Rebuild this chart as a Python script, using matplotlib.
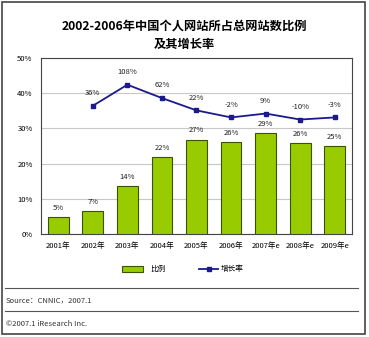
import matplotlib.pyplot as plt
from matplotlib.patches import Rectangle
from matplotlib.lines import Line2D

plt.rcParams['font.family'] = ['Noto Sans CJK SC', 'DejaVu Sans']

# data
years = ['2001年', '2002年', '2003年', '2004年', '2005年', '2006年', '2007年e', '2008年e', '2009年e']
share = [4.7, 6.5, 13.5, 21.9, 26.8, 26.1, 28.6, 25.7, 24.9]
share_labels = ['5%', '7%', '14%', '22%', '27%', '26%', '29%', '26%', '25%']
growth_pos = [36.4, 42.4, 38.6, 35.1, 33.1, 34.2, 32.5, 33.1]
growth_labels = ['36%', '108%', '62%', '22%', '-2%', '9%', '-10%', '-3%']

fig = plt.figure(figsize=(3.69, 3.37), dpi=100)
ax = fig.add_axes([0.111, 0.306, 0.843, 0.522])

x = list(range(len(years)))
ax.bar(x, share, width=0.6, color='#99cc00', edgecolor='#3d5200', linewidth=0.8, zorder=3)
for xi, v, lab in zip(x, share, share_labels):
    ax.text(xi, v + 1.5, lab, ha='center', va='bottom', fontsize=5.5, color='#222222')

xg = x[1:]
ax.plot(xg, growth_pos, color='#1a1a8c', linewidth=1.3, marker='s', markersize=3, zorder=4)
for xi, v, lab in zip(xg, growth_pos, growth_labels):
    ax.text(xi, v + 2.5, lab, ha='center', va='bottom', fontsize=5.5, color='#222222')

ax.set_xlim(-0.5, len(years) - 0.5)
ax.set_ylim(0, 50)
ax.set_yticks([0, 10, 20, 30, 40, 50])
ax.set_yticklabels(['0%', '10%', '20%', '30%', '40%', '50%'], fontsize=5.5)
ax.set_xticks(x)
ax.set_xticklabels(years, fontsize=5.5)
ax.tick_params(length=0, pad=6)
ax.yaxis.grid(True, color='#c8c8c8', linewidth=0.8, zorder=0)
for s in ax.spines.values():
    s.set_color('#444444')
    s.set_linewidth(0.8)

# title
fig.text(0.5, 0.922, '2002-2006年中国个人网站所占总网站数比例', ha='center', va='center',
         fontsize=8.8, fontweight='bold')
fig.text(0.5, 0.868, '及其增长率', ha='center', va='center', fontsize=8.8, fontweight='bold')

# legend
ly = 1 - 269 / 337
fig.patches.append(Rectangle((122 / 369, ly - 3 / 337), 21 / 369, 6 / 337, transform=fig.transFigure,
                             facecolor='#99cc00', edgecolor='#3d5200', linewidth=0.8))
fig.text(150 / 369, ly, '比例', fontsize=5.5, va='center')
fig.lines.append(Line2D([199 / 369, 218 / 369], [ly, ly], transform=fig.transFigure,
                        color='#1a1a8c', linewidth=1.3))
fig.lines.append(Line2D([208.5 / 369], [ly], transform=fig.transFigure,
                        color='#1a1a8c', marker='s', markersize=3))
fig.text(221 / 369, ly, '增长率', fontsize=5.5, va='center')

# footer
fig.lines.append(Line2D([5 / 369, 358 / 369], [1 - 288 / 337] * 2, transform=fig.transFigure,
                        color='#555555', linewidth=0.8))
fig.text(6 / 369, 1 - 300 / 337, 'Source：CNNIC，2007.1', fontsize=5.5, va='center', color='#333333')
fig.lines.append(Line2D([5 / 369, 358 / 369], [1 - 311 / 337] * 2, transform=fig.transFigure,
                        color='#555555', linewidth=0.8))
fig.text(6 / 369, 1 - 324 / 337, '©2007.1 iResearch Inc.', fontsize=5.5, va='center', color='#333333')

# outer frame
fig.patches.append(Rectangle((2 / 369, 3 / 337), 363 / 369, 332 / 337, transform=fig.transFigure,
                             fill=False, edgecolor='#444444', linewidth=1.2))

fig.savefig('out.png', dpi=100)
